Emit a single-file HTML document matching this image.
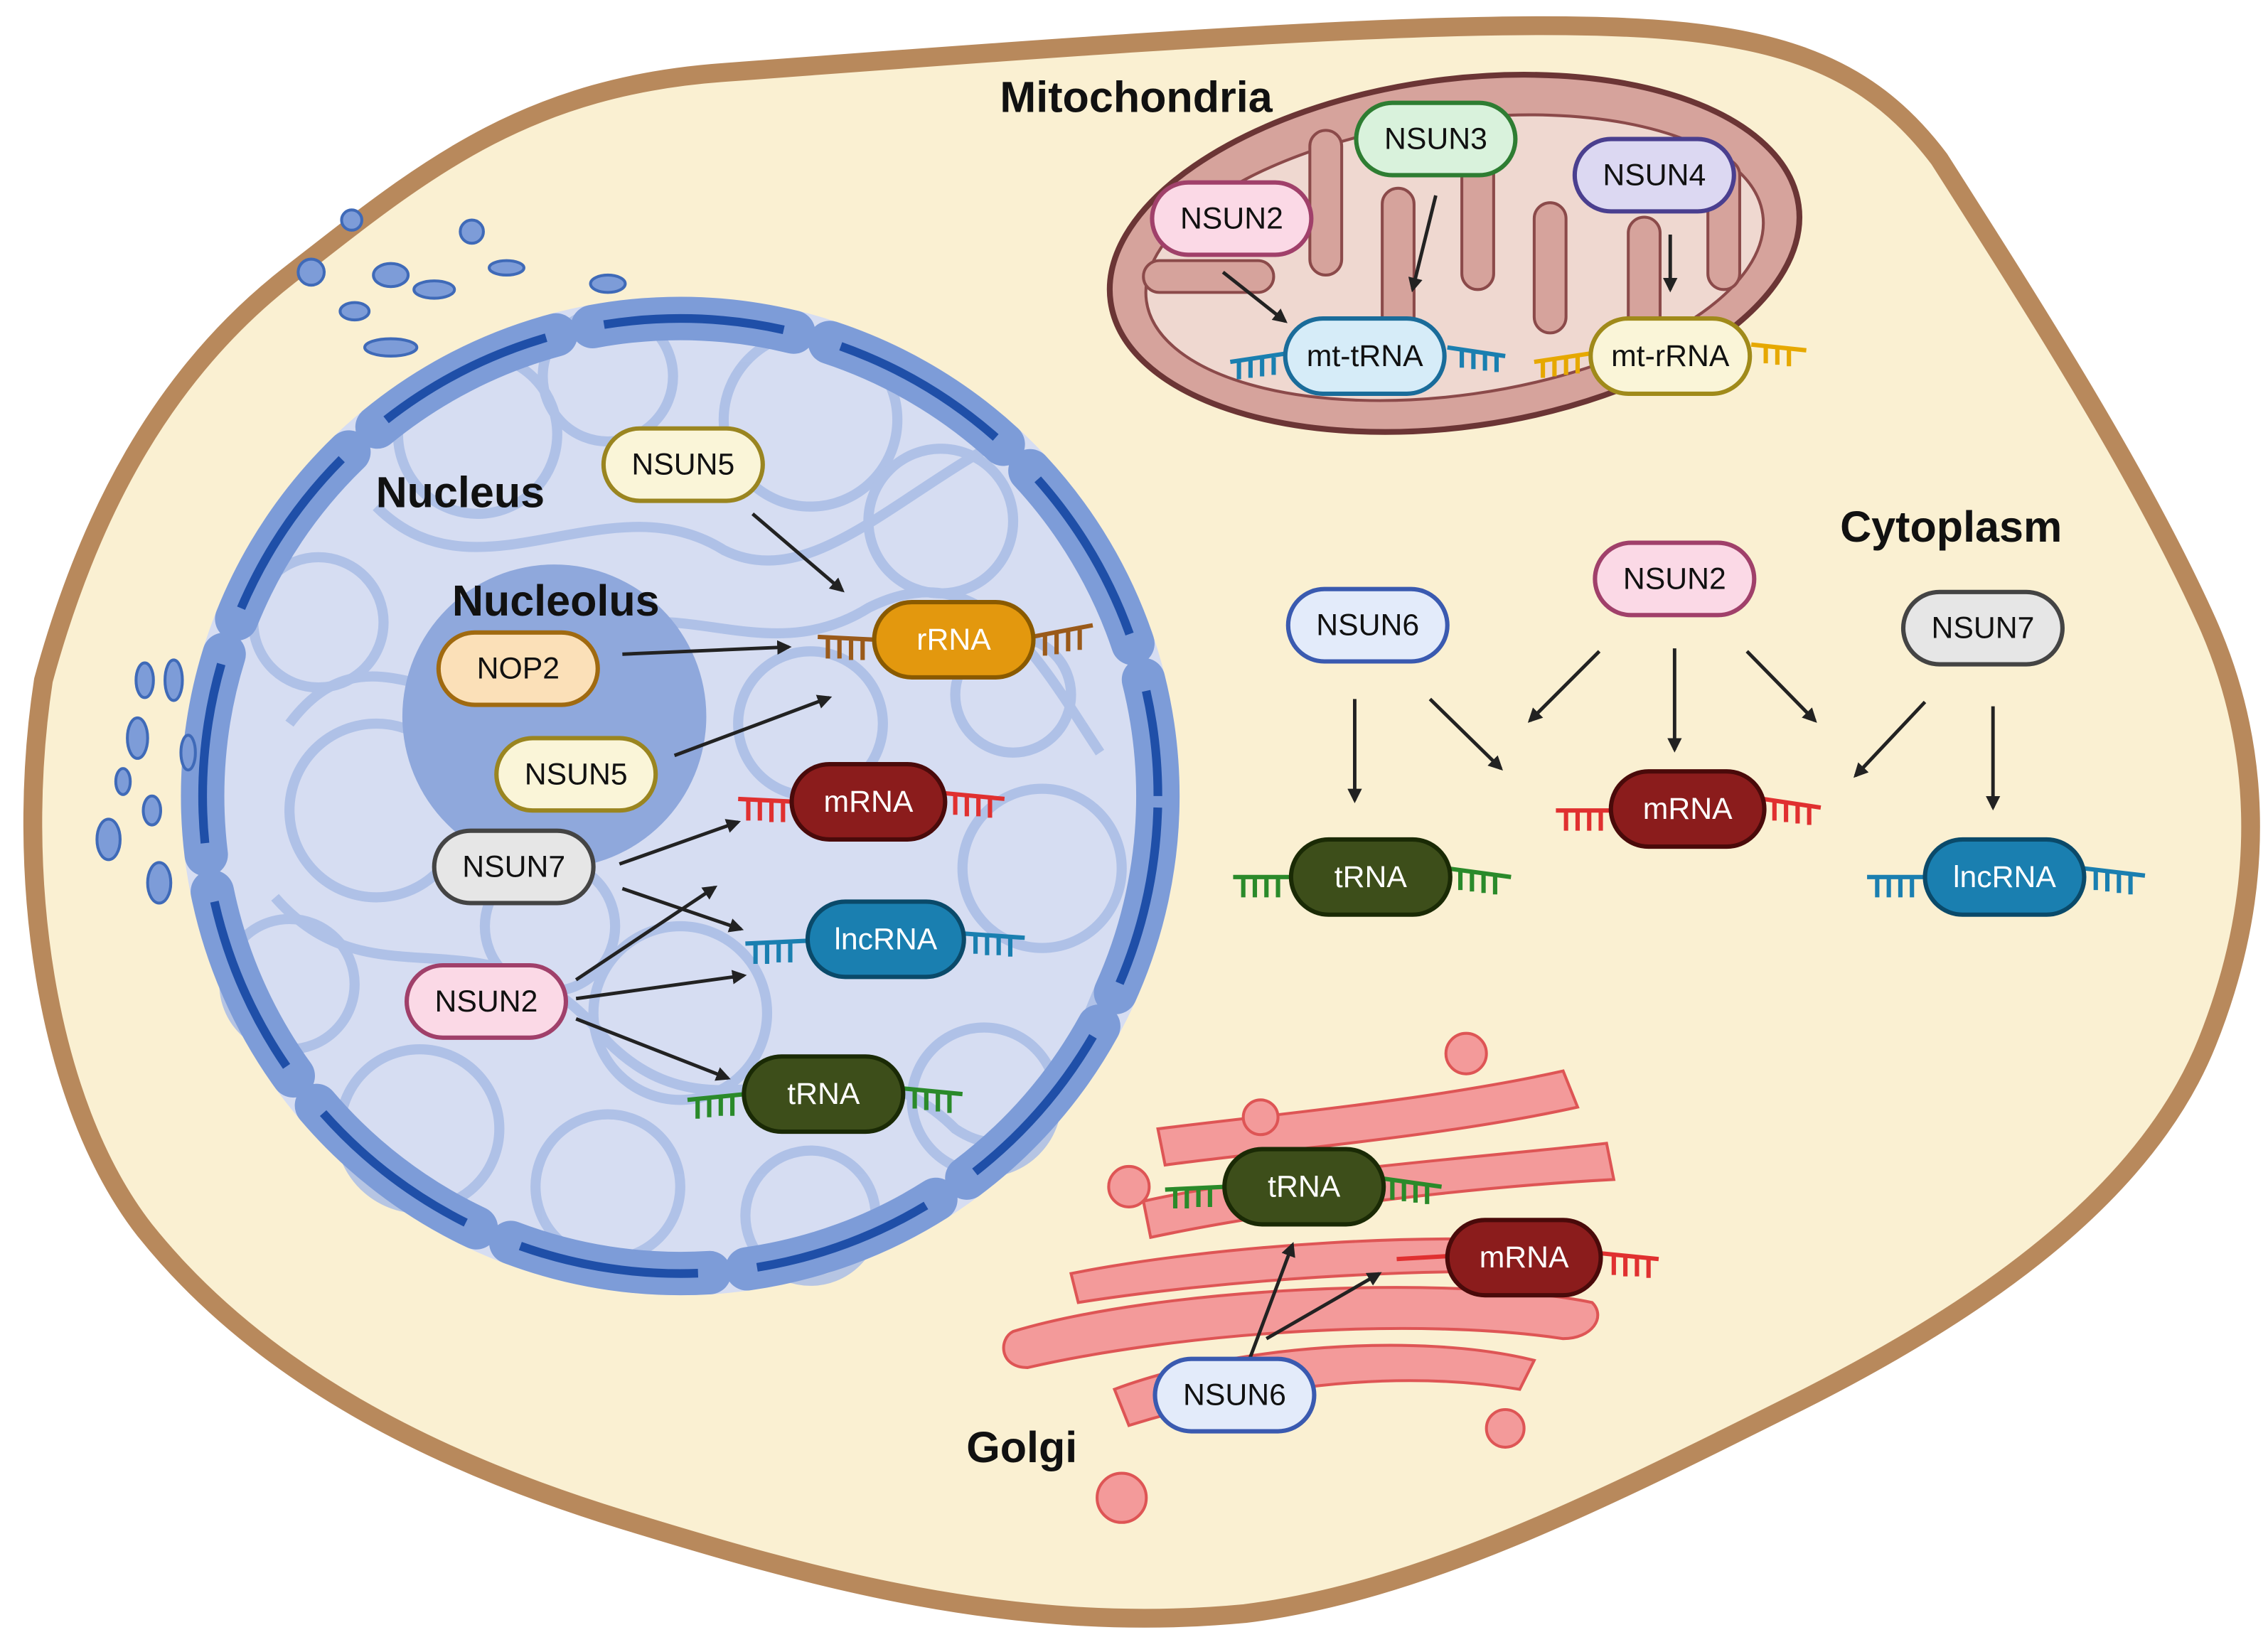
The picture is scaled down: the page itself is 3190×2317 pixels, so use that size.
<!DOCTYPE html>
<html><head><meta charset="utf-8"><style>
html,body{margin:0;padding:0;background:#fff}
svg{display:block}
text{font-family:"Liberation Sans",Arial,sans-serif}
.n{font-size:21px;text-anchor:middle;dominant-baseline:central;fill:#111}
.w{fill:#fff}
.t{font-size:30px;font-weight:bold;text-anchor:middle;dominant-baseline:central;fill:#111}
.a{stroke:#222;stroke-width:2.4;fill:none;marker-end:url(#ah)}
</style></head><body>
<svg width="3190" height="2317" viewBox="0 0 1567 1138" xmlns="http://www.w3.org/2000/svg">
<defs>
<marker id="ah" markerWidth="10" markerHeight="10" refX="8" refY="5" orient="auto" markerUnits="userSpaceOnUse"><path d="M0,0 L10,5 L0,10 Z" fill="#222"/></marker>
</defs>
<rect width="1567" height="1138" fill="#fff"/>
<path d="M30,470 C60,360 110,260 200,190 C290,120 360,60 500,50 C700,35 900,20 1030,18 C1200,15 1280,30 1340,110 C1410,220 1480,330 1525,430 C1565,520 1565,620 1525,720 C1485,820 1380,900 1240,970 C1100,1040 980,1100 860,1115 C700,1130 560,1090 430,1050 C300,1010 180,950 100,850 C30,760 10,600 30,470 Z" fill="#faf0d2" stroke="#b8895c" stroke-width="13"/>
<circle cx="470" cy="550" r="345" fill="#d6ddf2"/>
<g fill="none" stroke="#a9bde6" stroke-width="7" opacity="0.85">
<circle cx="330" cy="300" r="55"/><circle cx="420" cy="260" r="45"/><circle cx="560" cy="290" r="60"/><circle cx="650" cy="360" r="50"/>
<circle cx="220" cy="430" r="45"/><circle cx="260" cy="560" r="60"/><circle cx="200" cy="680" r="45"/><circle cx="290" cy="780" r="55"/>
<circle cx="420" cy="820" r="50"/><circle cx="560" cy="840" r="45"/><circle cx="680" cy="760" r="50"/><circle cx="720" cy="600" r="55"/>
<circle cx="700" cy="480" r="40"/><circle cx="470" cy="700" r="60"/><circle cx="560" cy="500" r="50"/><circle cx="380" cy="640" r="45"/>
<path d="M200,500 C260,420 320,520 380,460 C450,390 520,470 600,420 C680,380 720,460 760,520"/>
<path d="M190,620 C260,700 340,620 420,720 C500,800 580,700 660,780 C720,820 740,720 770,660"/>
<path d="M260,350 C330,420 420,330 500,380 C560,410 620,340 700,300"/>
</g>
<circle cx="383" cy="495" r="105" fill="#8fa8dc"/>
<circle cx="470" cy="550" r="330" fill="none" stroke="#7d9cd8" stroke-width="30" stroke-dasharray="140 26" stroke-linecap="round"/>
<circle cx="470" cy="550" r="330" fill="none" stroke="#1f4fa8" stroke-width="6" stroke-dasharray="125 41" stroke-dashoffset="-8"/>
<g fill="#7d9cd8" stroke="#3f6ab8" stroke-width="2">
<circle cx="243" cy="152" r="7"/><circle cx="215" cy="188" r="9"/><circle cx="326" cy="160" r="8"/>
<ellipse cx="270" cy="190" rx="12" ry="8"/><ellipse cx="300" cy="200" rx="14" ry="6"/><ellipse cx="245" cy="215" rx="10" ry="6"/>
<ellipse cx="350" cy="185" rx="12" ry="5"/><ellipse cx="420" cy="196" rx="12" ry="6"/><ellipse cx="270" cy="240" rx="18" ry="6"/>
<ellipse cx="100" cy="470" rx="6" ry="12"/><ellipse cx="95" cy="510" rx="7" ry="14"/><ellipse cx="120" cy="470" rx="6" ry="14"/>
<ellipse cx="75" cy="580" rx="8" ry="14"/><ellipse cx="105" cy="560" rx="6" ry="10"/><ellipse cx="110" cy="610" rx="8" ry="14"/>
<ellipse cx="85" cy="540" rx="5" ry="9"/><ellipse cx="130" cy="520" rx="5" ry="12"/>
</g>
<ellipse cx="1005" cy="175" rx="240" ry="120" transform="rotate(-8 1005 175)" fill="#d6a39c" stroke="#6b3535" stroke-width="4"/>
<ellipse cx="1005" cy="178" rx="215" ry="95" transform="rotate(-8 1005 178)" fill="#efd8d0" stroke="#8b4a4a" stroke-width="2"/>
<g fill="#d6a39c" stroke="#8b4a4a" stroke-width="2">
<rect x="905" y="90" width="22" height="100" rx="11"/><rect x="955" y="130" width="22" height="100" rx="11"/>
<rect x="1010" y="100" width="22" height="100" rx="11"/><rect x="1060" y="140" width="22" height="90" rx="11"/>
<rect x="1125" y="150" width="22" height="90" rx="11"/><rect x="1180" y="110" width="22" height="90" rx="11"/>
<rect x="790" y="180" width="90" height="22" rx="11"/>
</g>
<g fill="#f39a9a" stroke="#de5555" stroke-width="2">
<path d="M700,920 C800,890 1000,880 1100,900 C1110,910 1100,925 1080,925 C980,910 820,920 710,945 C690,945 690,925 700,920Z"/>
<path d="M740,880 C840,860 1000,850 1090,860 L1085,880 C980,875 840,885 745,900Z"/>
<path d="M770,960 C850,930 980,920 1060,940 L1050,960 C960,945 860,960 780,985Z"/>
<path d="M790,830 C880,810 1020,800 1110,790 L1115,815 C1020,820 890,835 795,855Z"/>
<path d="M800,780 C880,770 990,760 1080,740 L1090,765 C1000,785 880,795 805,805Z"/>
<circle cx="1013" cy="728" r="14"/><circle cx="871" cy="772" r="12"/><circle cx="780" cy="820" r="14"/>
<circle cx="1040" cy="987" r="13"/><circle cx="775" cy="1035" r="17"/>
</g>
<g fill="none" stroke-width="3">
<g stroke="#1a7fb0"><path d="M850,250 L890,244 M1000,240 L1040,246"/><path d="M856,250v12M864,249v12M872,248v12M880,247v12M1010,242v12M1018,243v12M1026,244v12M1034,245v12"/></g>
<g stroke="#e6a800"><path d="M1060,250 L1100,244 M1210,238 L1248,242"/><path d="M1066,249v12M1074,248v12M1082,247v12M1090,246v12M1220,239v12M1228,240v12M1236,241v12"/></g>
<g stroke="#9a5a1a"><path d="M565,440 L605,442 M713,440 L755,432"/><path d="M572,441v14M580,441v14M588,442v14M596,442v14M722,439v14M730,438v14M738,436v14M746,435v14"/></g>
<g stroke="#e03030"><path d="M510,552 L550,554 M652,548 L694,552"/><path d="M517,553v14M525,553v14M533,554v14M541,554v14M660,549v14M668,550v14M676,550v14M684,551v14"/>
<path d="M1075,560 L1115,560 M1218,552 L1258,558"/><path d="M1082,560v14M1090,560v14M1098,560v14M1106,560v14M1226,553v14M1234,554v14M1242,555v14M1250,556v14"/>
<path d="M965,870 L1000,868 M1106,866 L1146,870"/><path d="M1115,867v14M1123,868v14M1131,868v14M1139,869v14"/></g>
<g stroke="#1a7fb0"><path d="M515,652 L558,650 M665,645 L708,648"/><path d="M522,652v14M530,652v14M538,651v14M546,651v14M674,645v14M682,646v14M690,646v14M698,647v14"/>
<path d="M1290,606 L1330,606 M1440,600 L1482,605"/><path d="M1297,606v14M1305,606v14M1313,606v14M1321,606v14M1448,601v14M1456,602v14M1464,603v14M1472,604v14"/></g>
<g stroke="#2a8a2a"><path d="M475,760 L515,756 M623,752 L665,756"/><path d="M482,759v14M490,758v14M498,757v14M506,757v14M632,752v14M640,753v14M648,754v14M656,755v14"/>
<path d="M852,606 L893,606 M1000,600 L1044,606"/><path d="M859,606v14M867,606v14M875,606v14M883,606v14M1009,601v14M1017,602v14M1025,603v14M1033,604v14"/>
<path d="M805,822 L848,820 M953,814 L996,820"/><path d="M812,821v14M820,821v14M828,820v14M836,820v14M962,815v14M970,816v14M978,817v14M986,818v14"/></g>
</g>
<g>
<line class="a" x1="845" y1="188" x2="888" y2="222"/>
<line class="a" x1="992" y1="135" x2="976" y2="200"/>
<line class="a" x1="1154" y1="162" x2="1154" y2="200"/>
<line class="a" x1="520" y1="355" x2="582" y2="408"/>
<line class="a" x1="430" y1="452" x2="545" y2="447"/>
<line class="a" x1="466" y1="522" x2="573" y2="482"/>
<line class="a" x1="428" y1="597" x2="510" y2="568"/>
<line class="a" x1="430" y1="614" x2="512" y2="642"/>
<line class="a" x1="398" y1="677" x2="494" y2="613"/>
<line class="a" x1="398" y1="690" x2="514" y2="674"/>
<line class="a" x1="398" y1="704" x2="503" y2="745"/>
<line class="a" x1="936" y1="483" x2="936" y2="553"/>
<line class="a" x1="988" y1="483" x2="1037" y2="531"/>
<line class="a" x1="1105" y1="450" x2="1057" y2="498"/>
<line class="a" x1="1157" y1="448" x2="1157" y2="518"/>
<line class="a" x1="1207" y1="450" x2="1254" y2="498"/>
<line class="a" x1="1330" y1="485" x2="1282" y2="536"/>
<line class="a" x1="1377" y1="488" x2="1377" y2="558"/>
<line class="a" x1="863" y1="940" x2="893" y2="860"/>
<line class="a" x1="875" y1="925" x2="953" y2="880"/>
</g>
<g stroke-width="3">
<rect x="937" y="71" width="110" height="50" rx="25" fill="#d9f2dc" stroke="#2e7d32"/><text class="n" x="992" y="96">NSUN3</text>
<rect x="1088" y="96" width="110" height="50" rx="25" fill="#dcd8f2" stroke="#4a3f8f"/><text class="n" x="1143" y="121">NSUN4</text>
<rect x="796" y="126" width="110" height="50" rx="25" fill="#fbd9e6" stroke="#a0406a"/><text class="n" x="851" y="151">NSUN2</text>
<rect x="888" y="220" width="110" height="52" rx="26" fill="#d6ecf8" stroke="#1a6c9a"/><text class="n" x="943" y="246">mt-tRNA</text>
<rect x="1099" y="220" width="110" height="52" rx="26" fill="#faf5d8" stroke="#a08a1a"/><text class="n" x="1154" y="246">mt-rRNA</text>
<rect x="417" y="296" width="110" height="50" rx="25" fill="#faf5d8" stroke="#9a8520"/><text class="n" x="472" y="321">NSUN5</text>
<rect x="604" y="416" width="110" height="52" rx="26" fill="#e3980e" stroke="#8a5a00"/><text class="n w" x="659" y="442">rRNA</text>
<rect x="303" y="437" width="110" height="50" rx="25" fill="#fbe0b8" stroke="#a06a10"/><text class="n" x="358" y="462">NOP2</text>
<rect x="343" y="510" width="110" height="50" rx="25" fill="#faf5d8" stroke="#9a8520"/><text class="n" x="398" y="535">NSUN5</text>
<rect x="300" y="574" width="110" height="50" rx="25" fill="#e6e6e6" stroke="#444"/><text class="n" x="355" y="599">NSUN7</text>
<rect x="547" y="528" width="106" height="52" rx="26" fill="#8b1c1c" stroke="#4a0a0a"/><text class="n w" x="600" y="554">mRNA</text>
<rect x="558" y="623" width="108" height="52" rx="26" fill="#1a7fb0" stroke="#0a4a6a"/><text class="n w" x="612" y="649">lncRNA</text>
<rect x="281" y="667" width="110" height="50" rx="25" fill="#fbd9e6" stroke="#a0406a"/><text class="n" x="336" y="692">NSUN2</text>
<rect x="514" y="730" width="110" height="52" rx="26" fill="#3d4e1a" stroke="#1a2a05"/><text class="n w" x="569" y="756">tRNA</text>
<rect x="890" y="407" width="110" height="50" rx="25" fill="#e3ebfa" stroke="#3a5ab0"/><text class="n" x="945" y="432">NSUN6</text>
<rect x="1102" y="375" width="110" height="50" rx="25" fill="#fbd9e6" stroke="#a0406a"/><text class="n" x="1157" y="400">NSUN2</text>
<rect x="1315" y="409" width="110" height="50" rx="25" fill="#e6e6e6" stroke="#444"/><text class="n" x="1370" y="434">NSUN7</text>
<rect x="892" y="580" width="110" height="52" rx="26" fill="#3d4e1a" stroke="#1a2a05"/><text class="n w" x="947" y="606">tRNA</text>
<rect x="1113" y="533" width="106" height="52" rx="26" fill="#8b1c1c" stroke="#4a0a0a"/><text class="n w" x="1166" y="559">mRNA</text>
<rect x="1330" y="580" width="110" height="52" rx="26" fill="#1a7fb0" stroke="#0a4a6a"/><text class="n w" x="1385" y="606">lncRNA</text>
<rect x="846" y="794" width="110" height="52" rx="26" fill="#3d4e1a" stroke="#1a2a05"/><text class="n w" x="901" y="820">tRNA</text>
<rect x="1000" y="843" width="106" height="52" rx="26" fill="#8b1c1c" stroke="#4a0a0a"/><text class="n w" x="1053" y="869">mRNA</text>
<rect x="798" y="939" width="110" height="50" rx="25" fill="#e3ebfa" stroke="#3a5ab0"/><text class="n" x="853" y="964">NSUN6</text>
</g>
<text class="t" x="785" y="67">Mitochondria</text>
<text class="t" x="318" y="340">Nucleus</text>
<text class="t" x="384" y="415">Nucleolus</text>
<text class="t" x="1348" y="364">Cytoplasm</text>
<text class="t" x="706" y="1000">Golgi</text>
</svg>
</body></html>
